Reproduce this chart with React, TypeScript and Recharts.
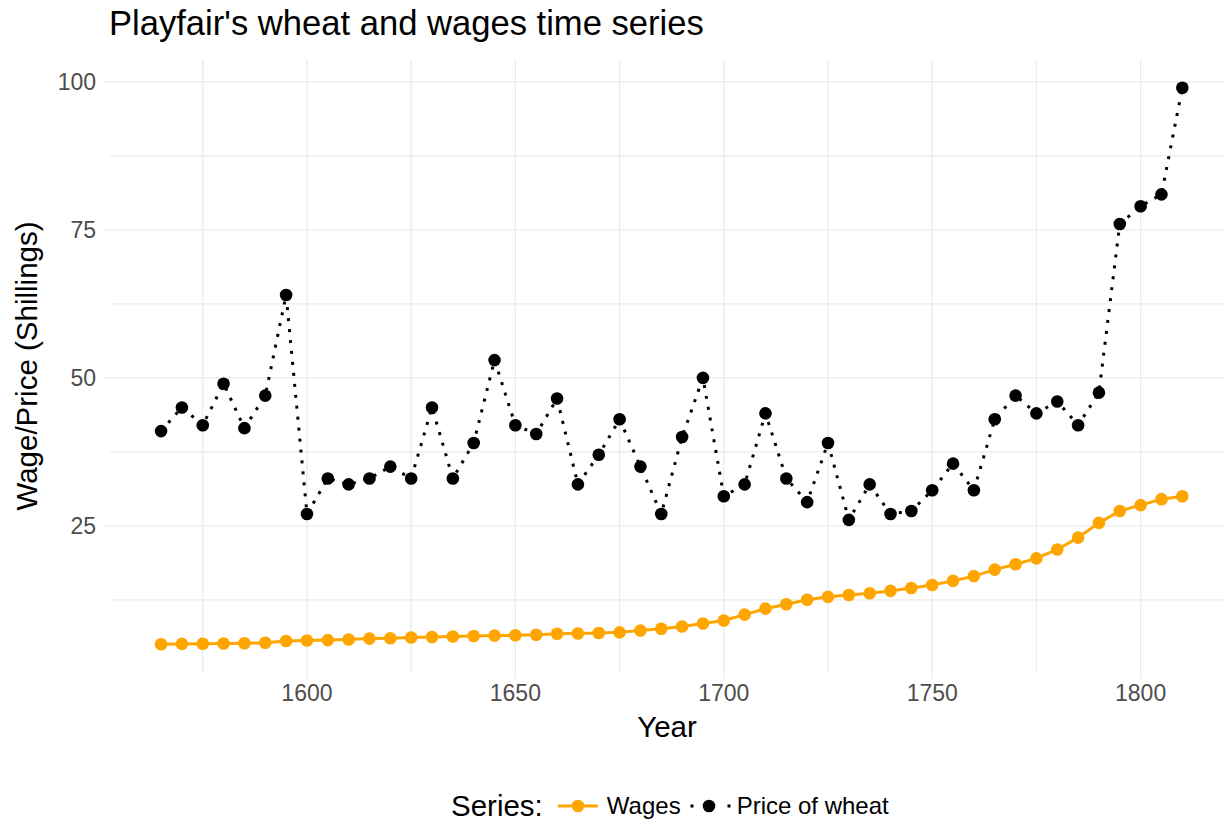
import React from 'react';
import { LineChart, Line, XAxis, YAxis, CartesianGrid, Legend } from 'recharts';

const years = [
  1565, 1570, 1575, 1580, 1585, 1590, 1595, 1600, 1605, 1610, 1615, 1620, 1625, 1630, 1635, 1640, 1645,
  1650, 1655, 1660, 1665, 1670, 1675, 1680, 1685, 1690, 1695, 1700, 1705, 1710, 1715, 1720, 1725, 1730,
  1735, 1740, 1745, 1750, 1755, 1760, 1765, 1770, 1775, 1780, 1785, 1790, 1795, 1800, 1805, 1810,
];
const wheat = [
  41, 45, 42, 49, 41.5, 47, 64, 27, 33, 32, 33, 35, 33, 45, 33, 39, 53, 42, 40.5, 46.5, 32, 37, 43, 35,
  27, 40, 50, 30, 32, 44, 33, 29, 39, 26, 32, 27, 27.5, 31, 35.5, 31, 43, 47, 44, 46, 42, 47.5, 76, 79,
  81, 99,
];
const wages = [
  5, 5.05, 5.08, 5.12, 5.15, 5.25, 5.54, 5.61, 5.69, 5.78, 5.94, 6.01, 6.12, 6.22, 6.3, 6.37, 6.45, 6.5,
  6.6, 6.75, 6.8, 6.9, 7, 7.3, 7.6, 8, 8.5, 9, 10, 11, 11.75, 12.5, 13, 13.3, 13.6, 14, 14.5, 15, 15.7,
  16.5, 17.6, 18.5, 19.5, 21, 23, 25.5, 27.5, 28.5, 29.5, 30,
];

const xTicks = [1600, 1650, 1700, 1750, 1800];
const xGrid = [1575, 1600, 1625, 1650, 1675, 1700, 1725, 1750, 1775, 1800];
const yTicks = [25, 50, 75, 100];
const yGrid = [12.5, 25, 37.5, 50, 62.5, 75, 87.5, 100];
const xDomain: [number, number] = [1552.75, 1820];
const yDomain: [number, number] = [0.3, 103.7];

const rows = years.map((year, i) => ({ year, wheat: wheat[i], wages: wages[i] }));

const ORANGE = '#FFA500';
const FONT = '"Liberation Sans", Arial, sans-serif';

// use the axis scale when the grid gets it, otherwise map through the plot offset
const toX = (axis: any, offset: any, v: number) =>
  typeof axis?.scale === 'function'
    ? axis.scale(v)
    : offset.left + ((v - xDomain[0]) / (xDomain[1] - xDomain[0])) * offset.width;
const toY = (axis: any, offset: any, v: number) =>
  typeof axis?.scale === 'function'
    ? axis.scale(v)
    : offset.top + ((yDomain[1] - v) / (yDomain[1] - yDomain[0])) * offset.height;

function SeriesLegend() {
  return (
    <div style={{ display: 'flex', alignItems: 'center', height: 32, fontFamily: FONT, paddingLeft: 451 }}>
      <span style={{ fontSize: 29.5, color: '#000' }}>Series:</span>
      <svg width={40} height={20} style={{ marginLeft: 15 }}>
        <line x1={0} y1={10} x2={40} y2={10} stroke={ORANGE} strokeWidth={3} />
        <circle cx={20} cy={10} r={6.3} fill={ORANGE} />
      </svg>
      <span style={{ fontSize: 24, color: '#000', marginLeft: 9 }}>Wages</span>
      <svg width={42} height={20} style={{ marginLeft: 8 }}>
        <line x1={1.5} y1={10} x2={42} y2={10} stroke="#000" strokeWidth={3} strokeDasharray="3 15.5" />
        <circle cx={20} cy={10} r={6.3} fill="#000" />
      </svg>
      <span style={{ fontSize: 24, color: '#000', marginLeft: 6 }}>Price of wheat</span>
    </div>
  );
}

export default function App() {
  return (
    <div style={{ position: 'absolute', left: 0, top: 0, width: 1228, height: 822, fontFamily: FONT, background: '#fff' }}>
      <div style={{ position: 'absolute', left: 109, top: 6, fontSize: 34.6, lineHeight: 1, color: '#000', whiteSpace: 'nowrap' }}>
        Playfair's wheat and wages time series
      </div>
      <LineChart width={1228} height={822} data={rows} margin={{ top: 60, right: 4, left: 0, bottom: 38 }}>
        <CartesianGrid
          stroke="#EBEBEB"
          strokeWidth={1.3}
          verticalCoordinatesGenerator={({ xAxis, offset }: any) => xGrid.map((v) => toX(xAxis, offset, v))}
          horizontalCoordinatesGenerator={({ yAxis, offset }: any) => yGrid.map((v) => toY(yAxis, offset, v))}
        />
        <XAxis
          dataKey="year"
          type="number"
          domain={xDomain}
          ticks={xTicks}
          height={80}
          tickSize={7}
          tickMargin={6}
          axisLine={false}
          tickLine={{ stroke: '#EBEBEB', strokeWidth: 1.3 }}
          tick={{ fontSize: 23, fill: '#4D4D4D' }}
          label={{ value: 'Year', position: 'insideBottom', offset: 15, fontSize: 29.5, fill: '#000' }}
        />
        <YAxis
          type="number"
          domain={yDomain}
          ticks={yTicks}
          width={110}
          tickSize={7}
          tickMargin={7}
          axisLine={false}
          tickLine={{ stroke: '#EBEBEB', strokeWidth: 1.3 }}
          tick={{ fontSize: 23, fill: '#4D4D4D' }}
          label={{
            value: 'Wage/Price (Shillings)',
            angle: -90,
            position: 'insideLeft',
            offset: 27,
            fontSize: 29.5,
            fill: '#000',
            style: { textAnchor: 'middle' },
          }}
        />
        <Line
          dataKey="wages"
          type="linear"
          stroke={ORANGE}
          strokeWidth={3}
          dot={{ r: 6.3, fill: ORANGE, stroke: ORANGE, strokeWidth: 0 }}
          activeDot={false}
          isAnimationActive={false}
        />
        <Line
          dataKey="wheat"
          type="linear"
          stroke="#000"
          strokeWidth={3}
          strokeDasharray="3 8"
          dot={{ r: 6.3, fill: '#000', stroke: '#000', strokeWidth: 0, strokeDasharray: '' }}
          activeDot={false}
          isAnimationActive={false}
        />
        <Legend
          verticalAlign="bottom"
          content={() => <SeriesLegend />}
          wrapperStyle={{ left: 0, bottom: 0, width: 1228, height: 32 }}
        />
      </LineChart>
    </div>
  );
}
